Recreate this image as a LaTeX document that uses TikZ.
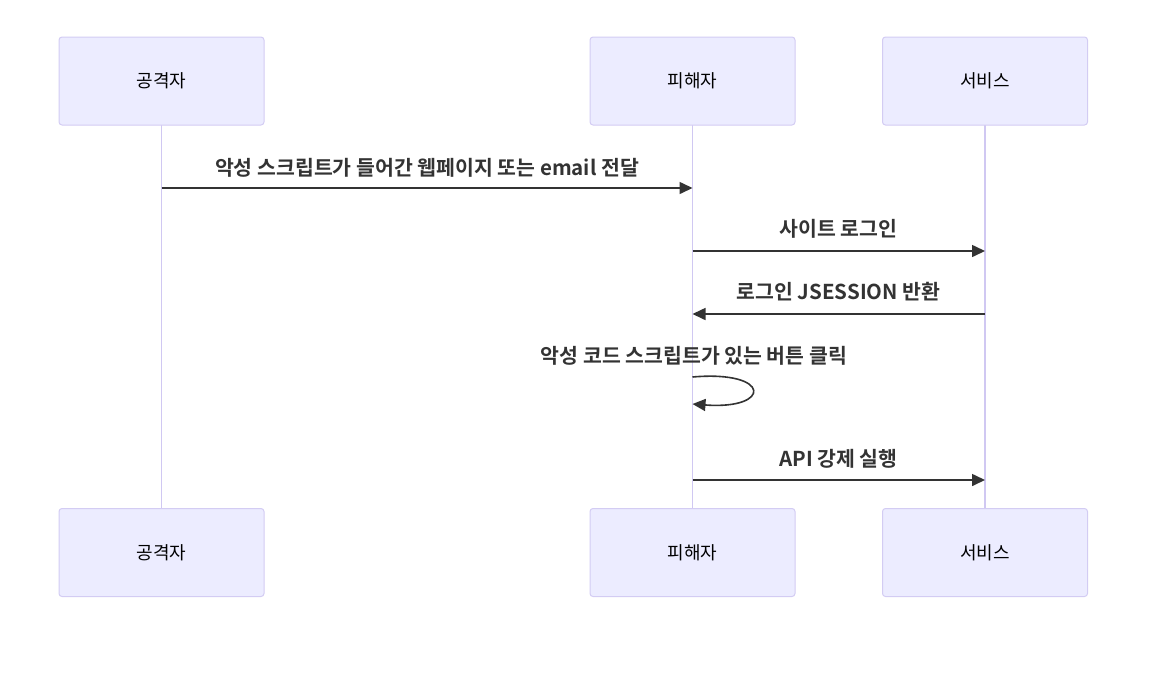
\documentclass[tikz,border=0pt]{standalone}
\usepackage{fontspec}
\newfontfamily\kr{Noto Sans CJK KR}
\newfontfamily\krb{Noto Sans CJK KR Bold}
\usetikzlibrary{arrows.meta}
\definecolor{actfill}{HTML}{ECECFF}
\definecolor{actline}{HTML}{D3CCF3}
\definecolor{lifeline}{HTML}{D0C8F2}
\definecolor{msg}{HTML}{333333}
\tikzset{
  actor/.style={draw=actline, fill=actfill, line width=1pt, rounded corners=3pt, minimum width=205pt, minimum height=88pt, inner sep=0pt, font=\kr\fontsize{18}{22}\selectfont, text=black},
  life/.style={draw=lifeline, line width=1.8pt},
  msgline/.style={draw=msg, line width=1.6pt, -{Triangle[length=13pt,width=12pt]}},
  msglabel/.style={font=\krb\fontsize{20.5}{24}\selectfont, text=msg, inner sep=0pt},
}
\begin{document}
\begin{tikzpicture}[x=1pt,y=-1pt]
\useasboundingbox (0,0) rectangle (1170,686);
% lifelines
\draw[life] (161.5,125) -- (161.5,508);
\draw[life] (692.5,125) -- (692.5,508);
\draw[life] (985,125) -- (985,508);
% actors
\node[actor] (a1) at (161.5,81) {공격자};
\node[actor] (v1) at (692.5,81) {피해자};
\node[actor] (s1) at (985,81) {서비스};
\node[actor] (a2) at (161.5,552.5) {공격자};
\node[actor] (v2) at (692.5,552.5) {피해자};
\node[actor] (s2) at (985,552.5) {서비스};
% message anchors
\coordinate (m1a) at (161.5,188);
\coordinate (m1b) at (692.5,188);
\coordinate (m2a) at (692.5,251);
\coordinate (m2b) at (985,251);
\coordinate (m3a) at (985,314);
\coordinate (m3b) at (692.5,314);
\coordinate (m4a) at (692.5,377);
\coordinate (m4b) at (692.5,404);
\coordinate (m5a) at (692.5,480);
\coordinate (m5b) at (985,480);
% messages
\node[msglabel] (t1) at (427,168) {악성 스크립트가 들어간 웹페이지 또는 email 전달};
\draw[msgline] (m1a) -- (m1b);
\node[msglabel] (t2) at (838.5,229) {사이트 로그인};
\draw[msgline] (m2a) -- (m2b);
\node[msglabel] (t3) at (838.5,292) {로그인 JSESSION 반환};
\draw[msgline] (m3a) -- (m3b);
\node[msglabel] (t4) at (694,356) {악성 코드 스크립트가 있는 버튼 클릭};
\draw[msgline] (m4a) .. controls (772,370) and (772,410) .. (m4b);
\node[msglabel] (t5) at (838.5,459) {API 강제 실행};
\draw[msgline] (m5a) -- (m5b);
\end{tikzpicture}
\end{document}
